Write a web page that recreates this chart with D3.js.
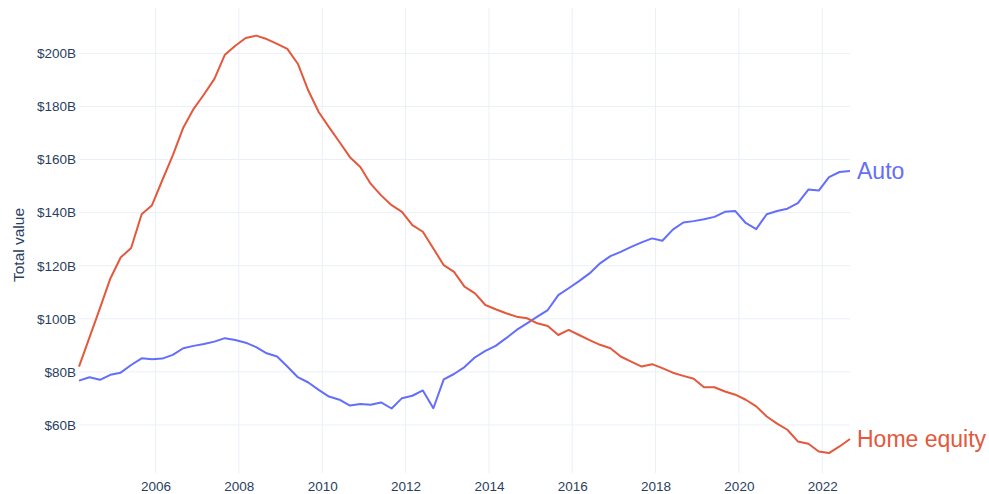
<!DOCTYPE html>
<html>
<head>
<meta charset="utf-8">
<script src="https://cdn.jsdelivr.net/npm/d3@7"></script>
<style>
  html, body { margin: 0; padding: 0; background: #fff; }
  svg { display: block; font-family: "Liberation Sans", Arial, Helvetica, sans-serif; }
</style>
</head>
<body>
<svg id="chart" width="989" height="494"></svg>
<script>
// ---- data ----
const quarters = [
  "2004Q1","2004Q2","2004Q3","2004Q4","2005Q1","2005Q2","2005Q3","2005Q4",
  "2006Q1","2006Q2","2006Q3","2006Q4","2007Q1","2007Q2","2007Q3","2007Q4",
  "2008Q1","2008Q2","2008Q3","2008Q4","2009Q1","2009Q2","2009Q3","2009Q4",
  "2010Q1","2010Q2","2010Q3","2010Q4","2011Q1","2011Q2","2011Q3","2011Q4",
  "2012Q1","2012Q2","2012Q3","2012Q4","2013Q1","2013Q2","2013Q3","2013Q4",
  "2014Q1","2014Q2","2014Q3","2014Q4","2015Q1","2015Q2","2015Q3","2015Q4",
  "2016Q1","2016Q2","2016Q3","2016Q4","2017Q1","2017Q2","2017Q3","2017Q4",
  "2018Q1","2018Q2","2018Q3","2018Q4","2019Q1","2019Q2","2019Q3","2019Q4",
  "2020Q1","2020Q2","2020Q3","2020Q4","2021Q1","2021Q2","2021Q3","2021Q4",
  "2022Q1","2022Q2","2022Q3"
];
const auto = [
  76.7,78.0,77.0,78.9,79.7,82.6,85.1,84.8,85.0,86.4,
  88.9,89.8,90.5,91.4,92.7,92.0,91.0,89.3,87.0,85.8,
  82.0,78.0,76.0,73.2,70.7,69.5,67.3,67.9,67.6,68.5,
  66.2,70.1,71.0,73.0,66.3,77.2,79.2,81.8,85.5,87.9,
  89.8,92.7,95.8,98.3,100.8,103.3,108.9,111.5,114.2,117.1,
  120.9,123.6,125.2,127.1,128.8,130.3,129.4,133.6,136.3,136.8,
  137.5,138.4,140.3,140.6,136.1,133.8,139.4,140.6,141.5,143.6,
  148.7,148.3,153.4,155.3,155.7
];
const homeEquity = [
  82.0,93.0,104.0,115.2,123.1,126.7,139.4,142.8,152.2,161.6,
  172.0,179.1,184.5,190.4,199.5,202.9,205.8,206.7,205.4,203.6,
  201.7,196.1,186.0,177.9,172.2,166.6,160.9,157.2,150.9,146.5,
  142.8,140.3,135.3,132.8,126.5,120.2,117.7,112.1,109.6,105.2,
  103.6,102.1,100.8,100.2,98.3,97.3,93.9,95.8,93.9,92.0,
  90.2,88.9,85.8,83.9,82.0,82.9,81.4,79.7,78.5,77.4,
  74.2,74.2,72.6,71.4,69.5,67.0,63.2,60.5,58.2,53.8,
  52.9,50.0,49.4,51.9,54.7
];
const yTicks = [60, 80, 100, 120, 140, 160, 180, 200];
const xTickYears = [2006, 2008, 2010, 2012, 2014, 2016, 2018, 2020, 2022];
const seriesNames = ["Auto", "Home equity"];
const seriesColors = ["#636efa", "#e4583b"];

// ---- layout ----
const svg = d3.select("#chart");
const plotL = 79, plotR = 850, plotT = 8, plotB = 473;

const parseQ = s => new Date(+s.slice(0, 4), (+s.slice(5)) * 3 - 1, 1);
const dates = quarters.map(parseQ);

const x = d3.scaleTime().domain(d3.extent(dates)).range([plotL, plotR]);
const y = d3.scaleLinear().domain([41.9, 217.1]).range([plotB, plotT]);

const textColor = "#2a3f5f";
const gridColor = "#ebf0f8";

// grid
const xTickDates = xTickYears.map(yr => new Date(yr, 0, 1));
svg.append("g").selectAll("line").data(xTickDates).join("line")
  .attr("x1", d => x(d)).attr("x2", d => x(d))
  .attr("y1", plotT).attr("y2", plotB)
  .attr("stroke", gridColor).attr("stroke-width", 1);
svg.append("g").selectAll("line").data(yTicks).join("line")
  .attr("x1", plotL).attr("x2", plotR)
  .attr("y1", d => y(d)).attr("y2", d => y(d))
  .attr("stroke", gridColor).attr("stroke-width", 1);

// axes (labels only)
const yAxis = d3.axisLeft(y).tickValues(yTicks).tickSize(0).tickPadding(0)
  .tickFormat(d => "$" + d + "B");
const gy = svg.append("g").attr("transform", `translate(${plotL - 3},0)`).call(yAxis);
gy.select(".domain").remove();
gy.selectAll("text").attr("fill", textColor).attr("font-size", "13.5px")
  .attr("font-family", "'Liberation Sans', Arial, sans-serif");

const xAxis = d3.axisBottom(x).tickValues(xTickDates).tickSize(0).tickPadding(0)
  .tickFormat(d3.timeFormat("%Y"));
const gx = svg.append("g").attr("transform", `translate(0,${plotB + 8})`).call(xAxis);
gx.select(".domain").remove();
gx.selectAll("text").attr("fill", textColor).attr("font-size", "13.5px")
  .attr("font-family", "'Liberation Sans', Arial, sans-serif");

// y title
svg.append("text")
  .attr("transform", `translate(24,245) rotate(-90)`)
  .attr("text-anchor", "middle")
  .attr("fill", textColor)
  .attr("font-size", "15.5px")
  .text("Total value");

// lines
const series = [auto, homeEquity];
const line = d3.line().x((d, i) => x(dates[i])).y(d => y(d));
series.forEach((vals, k) => {
  svg.append("path")
    .datum(vals)
    .attr("fill", "none")
    .attr("stroke", seriesColors[k])
    .attr("stroke-width", 2)
    .attr("stroke-linejoin", "round")
    .attr("d", line);
  const last = vals.length - 1;
  svg.append("text")
    .attr("x", x(dates[last]) + 7)
    .attr("y", y(vals[last]))
    .attr("dy", "0.35em")
    .attr("fill", seriesColors[k])
    .attr("font-size", "23px")
    .text(seriesNames[k]);
});
</script>
</body>
</html>
